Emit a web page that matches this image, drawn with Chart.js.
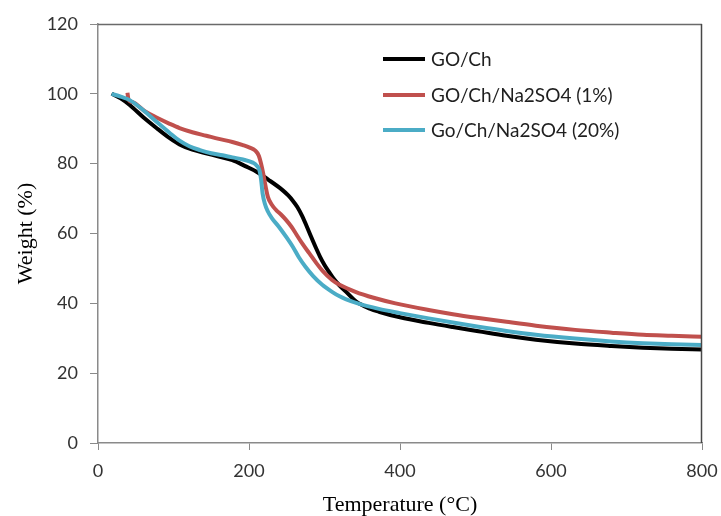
<!DOCTYPE html>
<html>
<head>
<meta charset="utf-8">
<script src="https://cdn.jsdelivr.net/npm/chart.js@4/dist/chart.umd.min.js"></script>
<style>
  html, body { margin: 0; padding: 0; background: #fff; }
  #wrap { width: 721px; height: 516px; position: relative; }
</style>
</head>
<body>
<div id="wrap"><canvas id="c" width="721" height="516"></canvas></div>
<script>
// ---- Data ----
const seriesNames = ['GO/Ch', 'GO/Ch/Na2SO4 (1%)', 'Go/Ch/Na2SO4 (20%)'];
const seriesColors = ['#000000', '#C0504D', '#4BACC6'];

const tempGO = [18, 30, 42, 60, 77, 95, 108, 125, 143, 160, 178, 195, 210, 225, 244, 252, 258, 264, 270, 276, 282, 288, 294, 300, 306, 313, 320, 330, 342, 360, 372, 400, 438, 470, 504, 541, 580, 632, 680, 722, 760, 800];
const weightGO = [100, 98.7, 96.8, 93.3, 90.3, 87.3, 85.5, 84, 83, 82, 81, 79.3, 77.7, 75.5, 72.5, 70.9, 69.4, 67.6, 65.2, 62.3, 59.2, 56.2, 53.4, 51, 49, 46.8, 45.1, 43, 40.5, 38.5, 37.6, 36, 34.4, 33.2, 32.0, 30.7, 29.6, 28.5, 27.8, 27.3, 27.0, 26.8];

const temp1 = [39, 40.5, 46, 62, 77.5, 95, 108, 125, 143.5, 160, 178, 192, 201, 208, 213, 216, 219, 222, 225, 230, 236, 243, 249, 256, 262, 270, 280, 290, 297.5, 310, 320, 341, 365, 394, 438, 470, 504, 541, 580, 632, 680, 722, 760, 800];
const weight1 = [100.3, 98.3, 97.6, 95, 93.2, 91.4, 90.2, 89, 88, 87.1, 86.2, 85.3, 84.6, 83.8, 82.3, 80, 77, 73.5, 70.5, 68.3, 66.7, 65.3, 63.9, 62, 60, 57.3, 54.3, 51.3, 49.3, 46.7, 45.3, 43.3, 41.6, 40, 38.1, 36.9, 35.8, 34.7, 33.6, 32.4, 31.6, 31.0, 30.7, 30.4];

const temp20 = [18, 30, 42, 60, 77.5, 95, 108, 121, 135, 150, 165, 178, 192, 205, 210, 214, 216, 218, 221, 225, 230, 240, 250, 258, 266, 275, 285, 297, 310, 320, 328, 345, 372, 400, 438, 470, 504, 541, 580, 632, 680, 722, 760, 800];
const weight20 = [100, 99.2, 98.2, 95.3, 92, 88.8, 86.6, 85, 83.9, 83, 82.4, 81.8, 81.2, 80.3, 79.5, 78, 75.5, 71.5, 68.5, 66.3, 64.5, 61.8, 58.8, 56.2, 53.2, 50.4, 47.8, 45.3, 43.3, 42, 41.2, 39.9, 38.4, 37.2, 35.7, 34.5, 33.3, 32.1, 31.0, 29.9, 29.1, 28.6, 28.3, 28.1];

const xTickValues = [0, 200, 400, 600, 800];
const yTickValues = [0, 20, 40, 60, 80, 100, 120];
const xTitle = 'Temperature (°C)';
const yTitle = 'Weight (%)';

// ---- Build datasets ----
function pts(xs, ys) { return xs.map((x, i) => ({ x: x, y: ys[i] })); }
const allX = [tempGO, temp1, temp20];
const allY = [weightGO, weight1, weight20];

const datasets = seriesNames.map((name, i) => ({
  label: name,
  data: pts(allX[i], allY[i]),
  borderColor: seriesColors[i],
  backgroundColor: seriesColors[i],
  borderWidth: 4,
  pointRadius: 0,
  fill: false,
  cubicInterpolationMode: 'monotone'
}));
datasets[0].order = 3; datasets[1].order = 2; datasets[2].order = 1;

const frame = {
  id: 'frame',
  afterDatasetsDraw(chart) {
    const a = chart.chartArea, ctx = chart.ctx;
    ctx.save();
    ctx.lineWidth = 1.5;
    ctx.strokeStyle = '#6a6a6a';
    ctx.beginPath(); ctx.moveTo(a.left, a.top + 0.5); ctx.lineTo(a.right, a.top + 0.5); ctx.stroke();
    ctx.strokeStyle = '#474747';
    ctx.beginPath(); ctx.moveTo(a.right - 0.5, a.top); ctx.lineTo(a.right - 0.5, a.bottom); ctx.stroke();
    ctx.restore();
  }
};

const legendPlugin = {
  id: 'customLegend',
  afterDraw(chart) {
    const ctx = chart.ctx;
    ctx.save();
    ctx.font = '19px Lato';
    ctx.textBaseline = 'middle';
    ctx.textAlign = 'left';
    const x0 = 383, x1 = 425, tx = 431, ys = [59, 95, 130];
    chart.data.datasets.forEach((ds, i) => {
      ctx.strokeStyle = ds.borderColor;
      ctx.lineWidth = 4;
      ctx.beginPath(); ctx.moveTo(x0, ys[i]); ctx.lineTo(x1, ys[i]); ctx.stroke();
      ctx.fillStyle = '#1f1f1f';
      ctx.fillText(ds.label, tx, ys[i] + 1);
    });
    ctx.restore();
  }
};

new Chart(document.getElementById('c'), {
  type: 'line',
  data: { datasets: datasets },
  options: {
    responsive: false,
    animation: false,
    layout: { padding: { top: 24, right: 19, left: 0, bottom: 0 } },
    plugins: { legend: { display: false }, tooltip: { enabled: false } },
    scales: {
      x: {
        type: 'linear',
        min: 0, max: 800,
        afterBuildTicks(s) { s.ticks = xTickValues.map(v => ({ value: v })); },
        afterFit(s) { s.height = 73; s.paddingLeft = 0; s.paddingRight = 0; },
        grid: { drawOnChartArea: false, drawTicks: true, tickLength: 7, color: '#8a8a8a' },
        border: { color: '#8a8a8a', width: 1.5 },
        ticks: { color: '#333', font: { family: 'Lato', size: 18 }, padding: 10, maxRotation: 0 },
        title: { display: true, text: xTitle, color: '#000', font: { family: 'Liberation Serif', size: 22, lineHeight: 1 }, padding: { top: 0, bottom: 0 } }
      },
      y: {
        type: 'linear',
        min: 0, max: 120,
        afterBuildTicks(s) { s.ticks = yTickValues.map(v => ({ value: v })); },
        afterFit(s) { s.width = 98; s.paddingTop = 0; s.paddingBottom = 0; },
        grid: { drawOnChartArea: false, drawTicks: true, tickLength: 8, color: '#8a8a8a' },
        border: { color: '#8a8a8a', width: 1.5 },
        ticks: { color: '#333', font: { family: 'Lato', size: 18 }, padding: 12 },
        title: { display: true, text: yTitle, color: '#000', font: { family: 'Liberation Serif', size: 22, lineHeight: 1 }, padding: { top: 15, bottom: 0 } }
      }
    }
  },
  plugins: [frame, legendPlugin]
});
</script>
</body>
</html>
